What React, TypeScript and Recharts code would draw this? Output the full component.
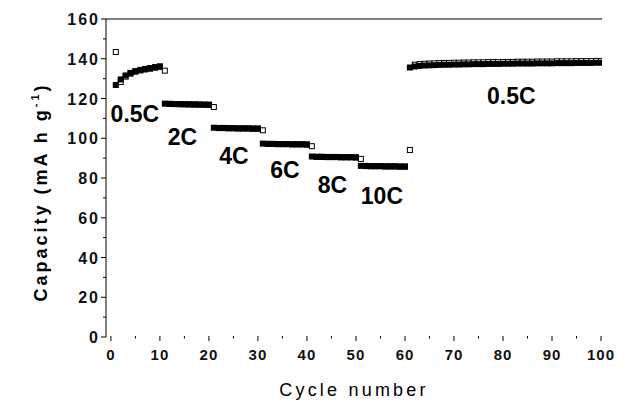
import { ReferenceDot, ReferenceLine, Scatter, ScatterChart, XAxis, YAxis } from "recharts";

const FONT = '"Liberation Sans", Arial, sans-serif';

const cycles = Array.from({ length: 100 }, (_, i) => i + 1);

// filled squares
const discharge = [
  126.8, 129.6, 131.6, 132.9, 133.8, 134.4, 134.9, 135.3, 135.8, 136.2,
  117.4, 117.3, 117.2, 117.2, 117.1, 117.1, 117.0, 117.0, 116.9, 116.9,
  105.3, 105.2, 105.2, 105.1, 105.1, 105.0, 105.0, 105.0, 104.9, 104.9,
  97.3, 97.2, 97.2, 97.1, 97.1, 97.1, 97.0, 97.0, 97.0, 96.9,
  90.8, 90.7, 90.7, 90.6, 90.6, 90.6, 90.5, 90.5, 90.5, 90.4,
  86.1, 86.1, 86.0, 86.0, 86.0, 85.9, 85.9, 85.9, 85.8, 85.8,
  135.6, 136.1, 136.4, 136.6, 136.7, 136.8, 136.9, 137.0, 137.0, 137.1,
  137.1, 137.2, 137.2, 137.3, 137.3, 137.3, 137.4, 137.4, 137.4, 137.5,
  137.5, 137.5, 137.6, 137.6, 137.6, 137.6, 137.7, 137.7, 137.7, 137.7,
  137.8, 137.8, 137.8, 137.8, 137.9, 137.9, 137.9, 137.9, 138.0, 138.0,
];

// open squares
const charge = [
  143.4, 128.3, 131.0, 132.5, 133.5, 134.1, 134.6, 135.0, 135.5, 135.9,
  134.0, 117.3, 117.2, 117.1, 117.1, 117.0, 117.0, 116.9, 116.9, 116.8,
  115.7, 105.1, 105.1, 105.0, 105.0, 104.9, 104.9, 104.9, 104.8, 104.8,
  104.0, 97.1, 97.1, 97.0, 97.0, 97.0, 96.9, 96.9, 96.9, 96.8,
  96.0, 90.6, 90.6, 90.5, 90.5, 90.5, 90.4, 90.4, 90.4, 90.3,
  89.6, 86.0, 85.9, 85.9, 85.9, 85.8, 85.8, 85.8, 85.7, 85.7,
  94.1, 137.0, 137.3, 137.5, 137.6, 137.7, 137.8, 137.9, 137.9, 138.0,
  138.0, 138.1, 138.1, 138.2, 138.2, 138.2, 138.3, 138.3, 138.3, 138.4,
  138.4, 138.4, 138.5, 138.5, 138.5, 138.5, 138.6, 138.6, 138.6, 138.6,
  138.7, 138.7, 138.7, 138.7, 138.8, 138.8, 138.8, 138.8, 138.9, 138.9,
];

const rateLabels = ["0.5C", "2C", "4C", "6C", "8C", "10C", "0.5C"];
const rateLabelCycle = [4.9, 14.6, 25.1, 35.5, 45.2, 55.3, 81.7];
const rateLabelCapacity = [112.2, 100.7, 91.1, 84.0, 76.7, 70.9, 121.3];

const xTicks = [0, 5, 10, 15, 20, 25, 30, 35, 40, 45, 50, 55, 60, 65, 70, 75, 80, 85, 90, 95, 100];
const yTicks = [0, 10, 20, 30, 40, 50, 60, 70, 80, 90, 100, 110, 120, 130, 140, 150, 160];

const dischargeData = cycles.map((c, i) => ({ cycle: c, capacity: discharge[i] }));
const chargeData = cycles.map((c, i) => ({ cycle: c, capacity: charge[i] }));

const FilledSquare = (p: any) => (
  <rect x={p.cx - 3} y={p.cy - 3} width={6} height={6} fill="#000" />
);
const OpenSquare = (p: any) => (
  <rect x={p.cx - 2.5} y={p.cy - 2.5} width={5} height={5} fill="#fff" stroke="#000" strokeWidth={1} />
);

const XTick = (p: any) => {
  const v = p.payload.value;
  const major = v % 10 === 0;
  return (
    <g>
      <line x1={p.x} x2={p.x} y1={p.y - 1} y2={p.y + (major ? 4 : 1.5)} stroke="#000" strokeWidth={1} />
      {major && (
        <text x={p.x} y={p.y + 23} textAnchor="middle" fontFamily={FONT} fontWeight="bold" fontSize={15} letterSpacing={1} fill="#111">
          {v}
        </text>
      )}
    </g>
  );
};

const YTick = (p: any) => {
  const v = p.payload.value;
  const major = v % 20 === 0;
  return (
    <g>
      <line x1={p.x - (major ? 5 : 3)} x2={p.x} y1={p.y} y2={p.y} stroke="#000" strokeWidth={1} />
      {major && (
        <text x={p.x - 6} y={p.y + 6} textAnchor="end" fontFamily={FONT} fontWeight="bold" fontSize={16} letterSpacing={2} fill="#111">
          {v}
        </text>
      )}
    </g>
  );
};

const YTitle = () => (
  <text
    x={0}
    y={0}
    transform="translate(47 192) rotate(-90)"
    textAnchor="middle"
    fontFamily={FONT}
    fontWeight="bold"
    fontSize={18}
    letterSpacing={3}
    fill="#000"
  >
    Capacity (mA h g
    <tspan fontSize={11} dy={-8}>-1</tspan>
    <tspan dy={8}>)</tspan>
  </text>
);

const XTitle = () => (
  <text x={354} y={396} textAnchor="middle" fontFamily={FONT} fontSize={18} letterSpacing={3.2} fill="#000">
    Cycle number
  </text>
);

const RateText = (label: string) => (p: any) => (
  <text x={p.cx} y={p.cy + 8} textAnchor="middle" fontFamily={FONT} fontWeight="bold" fontSize={23} fill="#000">
    {label}
  </text>
);

export default function App() {
  return (
    <div style={{ position: "fixed", left: 0, top: 0, width: 644, height: 414, background: "#fff" }}>
      <ScatterChart width={644} height={414} margin={{ top: 19, right: 42, bottom: 0, left: 0 }}>
        <XAxis
          type="number"
          dataKey="cycle"
          domain={[-1, 100.2]}
          ticks={xTicks}
          interval={0}
          allowDataOverflow
          axisLine={false}
          tickLine={false}
          tickSize={0}
          tickMargin={0}
          height={77}
          tick={<XTick />}
          label={<XTitle />}
        />
        <YAxis
          type="number"
          dataKey="capacity"
          domain={[0, 160]}
          ticks={yTicks}
          interval={0}
          allowDataOverflow
          axisLine={{ stroke: "#000", strokeWidth: 1 }}
          tickLine={false}
          tickSize={0}
          tickMargin={0}
          width={106}
          tick={<YTick />}
          label={<YTitle />}
        />
        <ReferenceLine y={160} stroke="#000" strokeWidth={1} />
        <Scatter data={chargeData} shape={OpenSquare} isAnimationActive={false} />
        <Scatter data={dischargeData} shape={FilledSquare} isAnimationActive={false} />
        {rateLabels.map((t, i) => (
          <ReferenceDot
            key={i}
            x={rateLabelCycle[i]}
            y={rateLabelCapacity[i]}
            r={0}
            shape={RateText(t)}
          />
        ))}
      </ScatterChart>
    </div>
  );
}
